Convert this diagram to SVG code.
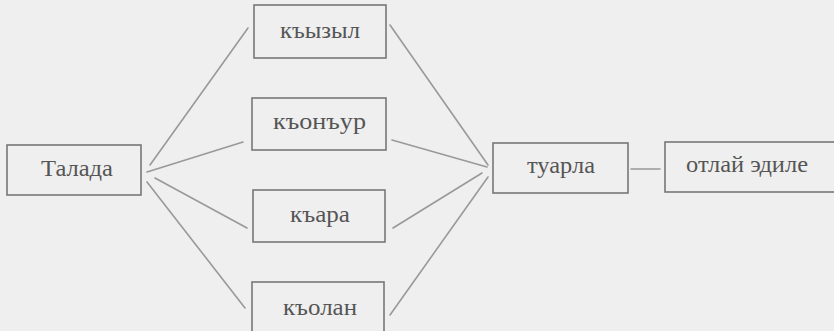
<svg xmlns="http://www.w3.org/2000/svg" width="834" height="331" viewBox="0 0 834 331">
  <style>
    .box { fill: none; stroke: #777; stroke-width: 1.6; }
    .lbl { font-family: "Liberation Serif", "DejaVu Serif", serif; font-size: 23px; fill: #555; text-anchor: middle; lengthAdjust: spacingAndGlyphs; }
    .edge { stroke: #999; stroke-width: 1.6; fill: none; stroke-linecap: round; }
  </style>
  <rect x="0" y="0" width="834" height="331" fill="#efefef"/>
  <g id="connectors">
    <line class="edge" x1="150" y1="165" x2="248" y2="28"/>
    <line class="edge" x1="147" y1="172" x2="243" y2="142"/>
    <line class="edge" x1="155" y1="178" x2="247" y2="228"/>
    <line class="edge" x1="147" y1="182" x2="245" y2="308"/>
    <line class="edge" x1="390" y1="25" x2="488" y2="165"/>
    <line class="edge" x1="392" y1="140" x2="487" y2="167"/>
    <line class="edge" x1="393" y1="228" x2="482" y2="173"/>
    <line class="edge" x1="390" y1="315" x2="488" y2="177"/>
    <line class="edge" x1="631" y1="169" x2="660" y2="169"/>
  </g>
  <g id="talada">
    <rect class="box" x="7" y="145" width="134" height="50"/>
    <text class="lbl" x="77" y="176" textLength="72" lengthAdjust="spacingAndGlyphs">Талада</text>
  </g>
  <g id="kyzyl">
    <rect class="box" x="254" y="5" width="132" height="53"/>
    <text class="lbl" x="320" y="38" textLength="80" lengthAdjust="spacingAndGlyphs">къызыл</text>
  </g>
  <g id="konur">
    <rect class="box" x="252" y="98" width="134" height="52"/>
    <text class="lbl" x="319.5" y="129" textLength="93" lengthAdjust="spacingAndGlyphs">къонъур</text>
  </g>
  <g id="kara">
    <rect class="box" x="253" y="190" width="132" height="52"/>
    <text class="lbl" x="320" y="222" textLength="60" lengthAdjust="spacingAndGlyphs">къара</text>
  </g>
  <g id="kolan">
    <rect class="box" x="252" y="282" width="132" height="60"/>
    <text class="lbl" x="320" y="315" textLength="74" lengthAdjust="spacingAndGlyphs">къолан</text>
  </g>
  <g id="tuarla">
    <rect class="box" x="493" y="143" width="135" height="50"/>
    <text class="lbl" x="561" y="173" textLength="68" lengthAdjust="spacingAndGlyphs">туарла</text>
  </g>
  <g id="otlay-edile">
    <rect class="box" x="665" y="142" width="180" height="50"/>
    <text class="lbl" x="747" y="172" textLength="122" lengthAdjust="spacingAndGlyphs">отлай эдиле</text>
  </g>
</svg>
